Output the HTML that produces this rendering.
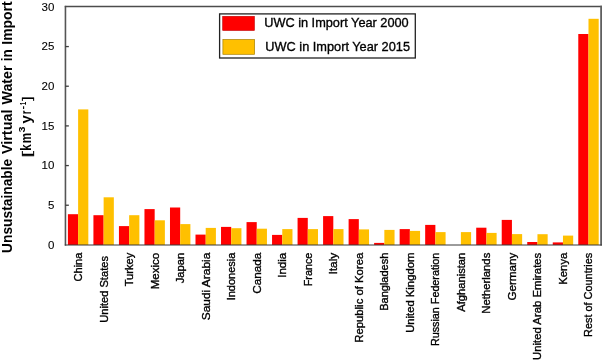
<!DOCTYPE html>
<html><head><meta charset="utf-8"><style>
html,body{margin:0;padding:0;background:#fff;}
body{width:602px;height:360px;overflow:hidden;}
svg{display:block;position:absolute;left:0;top:0;}
.tx{filter:grayscale(1);}
text{font-family:"Liberation Sans",sans-serif;fill:#000;stroke:#000;stroke-width:0.35px;}
.tk{font-size:11.5px;stroke-width:0.1px;}
.xl{font-size:11.8px;}
.lg{font-size:13px;}
.yt{font-weight:bold;stroke-width:0;}
</style></head><body>
<svg width="602" height="360" viewBox="0 0 602 360">
<rect x="67.90" y="214.20" width="10.21" height="30.80" fill="#FF0000"/>
<rect x="78.11" y="109.40" width="10.21" height="135.60" fill="#FFC000"/>
<rect x="93.42" y="215.20" width="10.21" height="29.80" fill="#FF0000"/>
<rect x="103.63" y="197.30" width="10.21" height="47.70" fill="#FFC000"/>
<rect x="118.94" y="226.10" width="10.21" height="18.90" fill="#FF0000"/>
<rect x="129.15" y="215.20" width="10.21" height="29.80" fill="#FFC000"/>
<rect x="144.46" y="209.10" width="10.21" height="35.90" fill="#FF0000"/>
<rect x="154.67" y="220.30" width="10.21" height="24.70" fill="#FFC000"/>
<rect x="169.98" y="207.50" width="10.21" height="37.50" fill="#FF0000"/>
<rect x="180.19" y="224.10" width="10.21" height="20.90" fill="#FFC000"/>
<rect x="195.50" y="234.60" width="10.21" height="10.40" fill="#FF0000"/>
<rect x="205.70" y="227.90" width="10.21" height="17.10" fill="#FFC000"/>
<rect x="221.02" y="226.90" width="10.21" height="18.10" fill="#FF0000"/>
<rect x="231.22" y="228.20" width="10.21" height="16.80" fill="#FFC000"/>
<rect x="246.53" y="222.10" width="10.21" height="22.90" fill="#FF0000"/>
<rect x="256.74" y="228.70" width="10.21" height="16.30" fill="#FFC000"/>
<rect x="272.05" y="234.90" width="10.21" height="10.10" fill="#FF0000"/>
<rect x="282.26" y="229.10" width="10.21" height="15.90" fill="#FFC000"/>
<rect x="297.57" y="217.90" width="10.21" height="27.10" fill="#FF0000"/>
<rect x="307.78" y="229.10" width="10.21" height="15.90" fill="#FFC000"/>
<rect x="323.09" y="216.10" width="10.21" height="28.90" fill="#FF0000"/>
<rect x="333.30" y="229.10" width="10.21" height="15.90" fill="#FFC000"/>
<rect x="348.61" y="219.10" width="10.21" height="25.90" fill="#FF0000"/>
<rect x="358.82" y="229.40" width="10.21" height="15.60" fill="#FFC000"/>
<rect x="374.13" y="242.90" width="10.21" height="2.10" fill="#FF0000"/>
<rect x="384.34" y="229.90" width="10.21" height="15.10" fill="#FFC000"/>
<rect x="399.65" y="229.10" width="10.21" height="15.90" fill="#FF0000"/>
<rect x="409.86" y="230.90" width="10.21" height="14.10" fill="#FFC000"/>
<rect x="425.17" y="224.90" width="10.21" height="20.10" fill="#FF0000"/>
<rect x="435.38" y="232.10" width="10.21" height="12.90" fill="#FFC000"/>
<rect x="460.89" y="232.10" width="10.21" height="12.90" fill="#FFC000"/>
<rect x="476.21" y="227.70" width="10.21" height="17.30" fill="#FF0000"/>
<rect x="486.41" y="232.90" width="10.21" height="12.10" fill="#FFC000"/>
<rect x="501.72" y="219.90" width="10.21" height="25.10" fill="#FF0000"/>
<rect x="511.93" y="234.10" width="10.21" height="10.90" fill="#FFC000"/>
<rect x="527.24" y="242.00" width="10.21" height="3.00" fill="#FF0000"/>
<rect x="537.45" y="234.20" width="10.21" height="10.80" fill="#FFC000"/>
<rect x="552.76" y="242.40" width="10.21" height="2.60" fill="#FF0000"/>
<rect x="562.97" y="235.60" width="10.21" height="9.40" fill="#FFC000"/>
<rect x="578.28" y="34.00" width="10.21" height="211.00" fill="#FF0000"/>
<rect x="588.49" y="18.80" width="10.21" height="226.20" fill="#FFC000"/>
<line x1="65.45" y1="5.85" x2="65.45" y2="245.6" stroke="#555" stroke-width="1.6"/>
<line x1="64.8" y1="6.6" x2="602" y2="6.6" stroke="#4d4d4d" stroke-width="1.5"/>
<line x1="601.1" y1="5.85" x2="601.1" y2="245.6" stroke="#5f5f5f" stroke-width="1.8"/>
<line x1="64.8" y1="245.0" x2="602" y2="245.0" stroke="#383838" stroke-width="1.0"/>
<line x1="65.35" y1="205.23" x2="68.85" y2="205.23" stroke="#3f3f3f" stroke-width="1.3"/>
<line x1="65.35" y1="165.57" x2="68.85" y2="165.57" stroke="#3f3f3f" stroke-width="1.3"/>
<line x1="65.35" y1="125.90" x2="68.85" y2="125.90" stroke="#3f3f3f" stroke-width="1.3"/>
<line x1="65.35" y1="86.23" x2="68.85" y2="86.23" stroke="#3f3f3f" stroke-width="1.3"/>
<line x1="65.35" y1="46.57" x2="68.85" y2="46.57" stroke="#3f3f3f" stroke-width="1.3"/>
<rect x="219.6" y="13.9" width="195.7" height="44.1" fill="#fff" stroke="#222" stroke-width="1.3"/>
<rect x="222.7" y="16.3" width="31.7" height="14.2" fill="#FF0000" stroke="#c00000" stroke-width="0.6"/>
<rect x="222.9" y="39.5" width="31.7" height="14.8" fill="#FFC000" stroke="#a88000" stroke-width="0.7"/>
</svg>
<svg class="tx" width="602" height="360" viewBox="0 0 602 360">
<text x="54.4" y="248.80" text-anchor="end" class="tk">0</text>
<text x="54.4" y="209.13" text-anchor="end" class="tk">5</text>
<text x="54.4" y="169.47" text-anchor="end" class="tk">10</text>
<text x="54.4" y="129.80" text-anchor="end" class="tk">15</text>
<text x="54.4" y="90.13" text-anchor="end" class="tk">20</text>
<text x="54.4" y="50.47" text-anchor="end" class="tk">25</text>
<text x="54.4" y="10.80" text-anchor="end" class="tk">30</text>
<text transform="translate(82.11,281.40) rotate(-90)" class="xl" textLength="28.7" lengthAdjust="spacingAndGlyphs">China</text>
<text transform="translate(107.63,322.80) rotate(-90)" class="xl" textLength="66.8" lengthAdjust="spacingAndGlyphs">United States</text>
<text transform="translate(133.15,286.30) rotate(-90)" class="xl" textLength="33.6" lengthAdjust="spacingAndGlyphs">Turkey</text>
<text transform="translate(158.67,289.30) rotate(-90)" class="xl" textLength="36.6" lengthAdjust="spacingAndGlyphs">Mexico</text>
<text transform="translate(184.19,283.30) rotate(-90)" class="xl" textLength="30.6" lengthAdjust="spacingAndGlyphs">Japan</text>
<text transform="translate(209.70,320.30) rotate(-90)" class="xl" textLength="67.6" lengthAdjust="spacingAndGlyphs">Saudi Arabia</text>
<text transform="translate(235.22,300.30) rotate(-90)" class="xl" textLength="47.6" lengthAdjust="spacingAndGlyphs">Indonesia</text>
<text transform="translate(260.74,293.80) rotate(-90)" class="xl" textLength="41.1" lengthAdjust="spacingAndGlyphs">Canada</text>
<text transform="translate(286.26,277.80) rotate(-90)" class="xl" textLength="25.1" lengthAdjust="spacingAndGlyphs">India</text>
<text transform="translate(311.78,286.30) rotate(-90)" class="xl" textLength="33.6" lengthAdjust="spacingAndGlyphs">France</text>
<text transform="translate(337.30,274.50) rotate(-90)" class="xl" textLength="21.8" lengthAdjust="spacingAndGlyphs">Italy</text>
<text transform="translate(362.82,342.80) rotate(-90)" class="xl" textLength="90.1" lengthAdjust="spacingAndGlyphs">Republic of Korea</text>
<text transform="translate(388.34,310.80) rotate(-90)" class="xl" textLength="58.1" lengthAdjust="spacingAndGlyphs">Bangladesh</text>
<text transform="translate(413.86,332.80) rotate(-90)" class="xl" textLength="80.1" lengthAdjust="spacingAndGlyphs">United Kingdom</text>
<text transform="translate(439.38,346.10) rotate(-90)" class="xl" textLength="93.4" lengthAdjust="spacingAndGlyphs">Russian Federation</text>
<text transform="translate(464.89,311.70) rotate(-90)" class="xl" textLength="59.0" lengthAdjust="spacingAndGlyphs">Afghanistan</text>
<text transform="translate(490.41,313.70) rotate(-90)" class="xl" textLength="61.0" lengthAdjust="spacingAndGlyphs">Netherlands</text>
<text transform="translate(515.93,300.60) rotate(-90)" class="xl" textLength="47.9" lengthAdjust="spacingAndGlyphs">Germany</text>
<text transform="translate(541.45,360.00) rotate(-90)" class="xl" textLength="107.3" lengthAdjust="spacingAndGlyphs">United Arab Emirates</text>
<text transform="translate(566.97,284.70) rotate(-90)" class="xl" textLength="32.0" lengthAdjust="spacingAndGlyphs">Kenya</text>
<text transform="translate(592.49,337.00) rotate(-90)" class="xl" textLength="84.3" lengthAdjust="spacingAndGlyphs">Rest of Countries</text>
<text transform="translate(11.6,44.65) rotate(-90)" class="yt" font-size="14" textLength="43.25" lengthAdjust="spacingAndGlyphs">Import</text>
<text transform="translate(11.6,61.20) rotate(-90)" class="yt" font-size="14" textLength="12.00" lengthAdjust="spacingAndGlyphs">in</text>
<text transform="translate(11.6,104.40) rotate(-90)" class="yt" font-size="14" textLength="38.90" lengthAdjust="spacingAndGlyphs">Water</text>
<text transform="translate(11.6,154.10) rotate(-90)" class="yt" font-size="14" textLength="44.60" lengthAdjust="spacingAndGlyphs">Virtual</text>
<text transform="translate(11.6,252.90) rotate(-90)" class="yt" font-size="14" textLength="94.10" lengthAdjust="spacingAndGlyphs">Unsustainable</text>
<text transform="translate(30.8,100.80) rotate(-90)" class="yt" style="font-weight:normal;stroke-width:0.3px" font-size="12.5" textLength="4.30" lengthAdjust="spacingAndGlyphs">]</text>
<text transform="translate(25.7,105.20) rotate(-90)" class="yt" font-size="9" textLength="3.40" lengthAdjust="spacingAndGlyphs">1</text>
<text transform="translate(26.2,109.50) rotate(-90)" class="yt" font-size="9" textLength="3.70" lengthAdjust="spacingAndGlyphs">-</text>
<text transform="translate(30.8,114.20) rotate(-90)" class="yt" font-size="14" textLength="3.70" lengthAdjust="spacingAndGlyphs">r</text>
<text transform="translate(30.8,123.50) rotate(-90)" class="yt" font-size="14" textLength="8.30" lengthAdjust="spacingAndGlyphs">y</text>
<text transform="translate(25.3,132.50) rotate(-90)" class="yt" font-size="9" textLength="6.00" lengthAdjust="spacingAndGlyphs">3</text>
<text transform="translate(30.8,143.20) rotate(-90)" class="yt" font-size="14" textLength="10.40" lengthAdjust="spacingAndGlyphs">m</text>
<text transform="translate(30.8,150.70) rotate(-90)" class="yt" font-size="14" textLength="6.40" lengthAdjust="spacingAndGlyphs">k</text>
<text transform="translate(30.8,157.60) rotate(-90)" class="yt" style="font-weight:normal;stroke-width:0.3px" font-size="12.5" textLength="6.40" lengthAdjust="spacingAndGlyphs">[</text>
<text x="264.2" y="26.7" class="lg" textLength="144.5" lengthAdjust="spacingAndGlyphs">UWC in Import Year 2000</text>
<text x="265.3" y="50.5" class="lg" textLength="144.7" lengthAdjust="spacingAndGlyphs">UWC in Import Year 2015</text>
</svg>
</body></html>
